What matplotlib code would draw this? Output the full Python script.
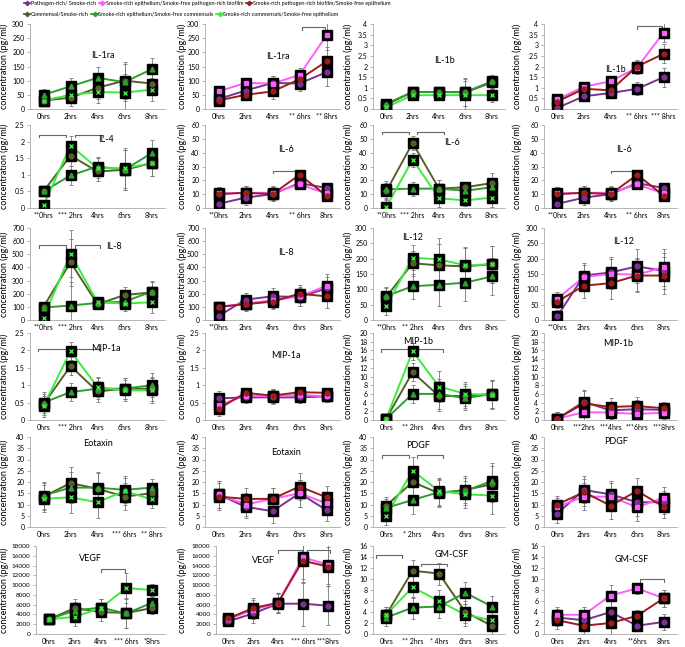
import numpy as np
import matplotlib.pyplot as plt
from matplotlib.lines import Line2D
from matplotlib.ticker import FuncFormatter, MultipleLocator

plt.rcParams['font.family'] = ['Lato', 'DejaVu Sans']

hours = ['0hrs', '2hrs', '4hrs', '6hrs', '8hrs']

# 커멘설 패널 순서: Commensal/Smoke-rich, SR epithelium/SF commensals, SR commensals/SF epithelium
# 병원균 패널 순서: Pathogen-rich/Smoke-rich, SR epithelium/SF pathogen-rich, SR pathogen-rich/SF epithelium
il1ra_c = [[30, 40, 75, 100, 90], [50, 80, 110, 95, 140], [30, 50, 60, 58, 68]]
il1ra_c_err = [20, 30, 40, 65, 40]
il1ra_p = [[35, 65, 92, 90, 130], [62, 92, 90, 120, 260], [30, 50, 62, 105, 168]]
il1ra_p_err = [15, 15, 25, 25, 50]
il1b_c = [[0.2, 0.8, 0.8, 0.78, 1.25], [0.25, 0.8, 0.8, 0.8, 1.3], [0.08, 0.65, 0.65, 0.65, 0.65]]
il1b_c_err = [0.1, 0.15, 0.2, 0.65, 0.3]
il1b_p = [[0.05, 0.6, 0.75, 0.95, 1.5], [0.45, 1.05, 1.3, 1.95, 3.6], [0.35, 0.95, 0.88, 2.0, 2.6]]
il1b_p_err = [0.15, 0.15, 0.2, 0.3, 0.45]
il4_c = [[0.5, 1.58, 1.1, 1.15, 1.35], [0.5, 0.98, 1.25, 1.15, 1.65], [0.08, 1.88, 1.2, 1.2, 1.35]]
il4_c_err = [0.1, 0.3, 0.3, 0.6, 0.4]
il6_p = [[3, 7.5, 10, 18, 14.5], [10.5, 11, 11, 17, 10.5], [10, 11, 10, 24, 9]]
il6_p_err = [5, 5, 5, 3, 3]
il6_c = [[12, 47, 14, 15, 18], [13.5, 14, 14, 12.5, 15], [0.5, 35, 7, 5.5, 7.5]]
il6_c_err = [6, 5, 6, 4, 7]
il8_c = [[100, 440, 120, 190, 210], [95, 110, 130, 140, 215], [15, 505, 135, 125, 135]]
il8_c_err = [40, 180, 40, 60, 80]
il8_p = [[30, 155, 180, 175, 240], [100, 125, 150, 180, 260], [100, 120, 140, 200, 180]]
il8_p_err = [30, 50, 60, 70, 90]
il12_c = [[75, 185, 178, 175, 182], [78, 110, 115, 122, 142], [45, 203, 198, 178, 182]]
il12_c_err = [30, 40, 70, 60, 60]
il12_p = [[12, 145, 155, 175, 160], [70, 140, 150, 148, 172], [60, 112, 120, 145, 145]]
il12_p_err = [20, 40, 50, 55, 60]
mip1a_c = [[0.45, 1.55, 0.82, 0.9, 0.9], [0.5, 0.8, 0.9, 0.9, 1.0], [0.4, 1.98, 0.95, 0.85, 0.85]]
mip1a_c_err = [0.3, 0.25, 0.3, 0.3, 0.35]
mip1a_p = [[0.62, 0.65, 0.65, 0.65, 0.68], [0.42, 0.7, 0.68, 0.72, 0.68], [0.32, 0.78, 0.7, 0.8, 0.78]]
mip1a_p_err = [0.2, 0.15, 0.2, 0.15, 0.15]
mip1b_c = [[0.3, 11, 5.5, 5.5, 6], [0.3, 6, 6, 5, 6], [0.3, 15.8, 7.7, 6, 5.8]]
mip1b_c_err = [0.3, 2, 3.5, 2.8, 3.2]
mip1b_p = [[0.3, 4.2, 2.2, 2.5, 2.3], [0.3, 1.8, 1.7, 1.4, 1.7], [0.3, 3.8, 3, 3.2, 2.7]]
mip1b_p_err = [1.5, 2.8, 2, 2, 1.5]
eot_c = [[13.5, 19.5, 17, 13.5, 15], [14, 17.5, 17.5, 16.5, 17.5], [12.5, 13.2, 11, 16, 12.3]]
eot_c_err = [6, 7, 7, 6, 4]
eot_p = [[14.5, 9, 7, 15, 7.5], [14.5, 10, 12.5, 15, 10.5], [13.5, 12.5, 12.5, 18, 13.2]]
eot_p_err = [6, 5, 5, 6, 5]
pdgf_c = [[9.5, 20, 15, 16.5, 19], [8.5, 12, 15.5, 16, 20.5], [5, 25, 16, 14.5, 14]]
pdgf_c_err = [4, 6, 6, 6, 8]
pdgf_p = [[6, 16.5, 14.5, 11, 11], [9, 13.5, 13.5, 8.8, 13], [10, 15.5, 9.5, 16, 9]]
pdgf_p_err = [4, 6, 6, 6, 5]
vegf_c = [[3000, 5300, 4500, 4300, 5300], [3000, 4800, 5400, 4200, 6400], [3000, 3500, 5300, 9400, 9000]]
vegf_c_err = [1000, 1800, 1800, 3000, 1200]
vegf_p = [[2600, 4200, 6200, 6200, 5800], [3000, 5000, 6300, 15700, 14200], [3200, 5300, 6400, 15000, 13800]]
vegf_p_err = [1000, 2000, 2000, 4500, 4000]
gmcsf_c = [[3.5, 11.5, 11, 4, 1.5], [3, 4.8, 5, 7.5, 5], [3.5, 8.5, 6, 3.5, 2.5]]
gmcsf_c_err = [1.5, 2, 2, 2, 2]
gmcsf_p = [[3, 2.5, 4, 1.5, 2.2], [3.5, 3.5, 7, 8.3, 6.5], [2.5, 1.5, 2, 3.3, 6.5]]
gmcsf_p_err = [1.5, 1.5, 2, 1, 1.5]

# 패널별 x축 라벨 (유의성 표시 포함)
x_plain = hours
x_il1ra_p = ['0hrs', '2hrs', '4hrs', '** 6hrs', '** 8hrs']
x_il1b_p = ['0hrs', '2hrs', '4hrs', '** 6hrs', '*** 8hrs']
x_il4 = ['**0hrs', '*** 2hrs', '4hrs', '6hrs', '8hrs']
x_il6_p = ['**0hrs', '2hrs', '4hrs', '** 6hrs', '8hrs']
x_il8_p = ['**0hrs', '2hrs', '4hrs', '6hrs', '8hrs']
x_il12_c = ['**0hrs', '** 2hrs', '4hrs', '6hrs', '8hrs']
x_mip1a_c = ['0hrs', '*** 2hrs', '4hrs', '6hrs', '8hrs']
x_mip1b_c = ['0hrs', '** 2hrs', '4hrs', '6hrs', '8hrs']
x_mip1b_p = ['0hrs', '***2hrs', '***4hrs', '***6hrs', '***8hrs']
x_eot_c = ['0hrs', '2hrs', '4hrs', '*** 6hrs', '** 8hrs']
x_pdgf_c = ['0hrs', '* 2hrs', '4hrs', '6hrs', '8hrs']
x_vegf_c = ['0hrs', '2hrs', '4hrs', '*** 6hrs', '*8hrs']
x_vegf_p = ['0hrs', '2hrs', '4hrs', '*** 6hrs', '***8hrs']
x_gmcsf_c = ['0hrs', '** 2hrs', '* 4hrs', '6hrs', '8hrs']
x_gmcsf_p = ['0hrs', '2hrs', '4hrs', '**6hrs', '8hrs']

c_names = ['Commensal/Smoke-rich', 'Smoke-rich epithelium/Smoke-free commensals',
           'Smoke-rich commensals/Smoke-free epithelium']
p_names = ['Pathogen-rich/ Smoke-rich', 'Smoke-rich epithelium/Smoke-free pathogen-rich biofilm',
           'Smoke-rich pathogen-rich biofilm/Smoke-free epithelium']
c_colors = ['#55602A', '#2F9E2F', '#3DEB3D']
p_colors = ['#7B3294', '#FF5CFF', '#9E1C1C']
c_markers = ['o', '^', 'x']
p_markers = ['o', 's', 'o']

# (데이터, 오차, 그룹, 제목, ymax, 눈금간격, x라벨, 제목위치, 괄호들)
panels = [
    (il1ra_c, il1ra_c_err, 'c', 'IL-1ra', 300, 50, x_plain, (2.2, 190), []),
    (il1ra_p, il1ra_p_err, 'p', 'IL-1ra', 300, 50, x_il1ra_p, (2.2, 185), [(3.1, 3.95, 288)]),
    (il1b_c, il1b_c_err, 'c', 'IL-1b', 4, 0.5, x_plain, (2.2, 2.3), []),
    (il1b_p, il1b_p_err, 'p', 'IL-1b', 4, 0.5, x_il1b_p, (2.2, 1.85), [(3.0, 3.95, 3.9)]),
    (il4_c, il4_c_err, 'c', 'IL-4', 2.5, 0.5, x_il4, (2.3, 2.05), [(-0.15, 0.85, 2.2), (1.15, 2.2, 2.2)]),
    (il6_p, il6_p_err, 'p', 'IL-6', 60, 10, x_il6_p, (2.5, 42), [(2.0, 3.0, 27)]),
    (il6_c, il6_c_err, 'c', 'IL-6', 60, 10, x_il4, (2.5, 47), [(-0.15, 0.85, 55), (1.15, 2.2, 55)]),
    (il6_p, il6_p_err, 'p', 'IL-6', 60, 10, x_il6_p, (2.5, 42), [(2.0, 3.0, 27)]),
    (il8_c, il8_c_err, 'c', 'IL-8', 700, 100, x_il4, (2.6, 560), [(-0.15, 0.85, 570), (1.15, 2.1, 570)]),
    (il8_p, il8_p_err, 'p', 'IL-8', 700, 100, x_il8_p, (2.5, 510), []),
    (il12_c, il12_c_err, 'c', 'IL-12', 300, 50, x_il12_c, (1.0, 270), []),
    (il12_p, il12_p_err, 'p', 'IL-12', 300, 50, x_il8_p, (2.5, 255), []),
    (mip1a_c, mip1a_c_err, 'c', 'MIP-1a', 2.5, 0.5, x_mip1a_c, (2.3, 2.05), [(-0.2, 0.85, 2.05), (1.15, 2.1, 2.05)]),
    (mip1a_p, mip1a_p_err, 'p', 'MIP-1a', 2.5, 0.5, x_plain, (2.5, 1.85), []),
    (mip1b_c, mip1b_c_err, 'c', 'MIP-1b', 20, 2, x_mip1b_c, (1.2, 18), [(-0.2, 0.85, 16.3), (1.15, 2.15, 16.3)]),
    (mip1b_p, mip1b_p_err, 'p', 'MIP-1b', 20, 2, x_mip1b_p, (2.3, 17.5), []),
    (eot_c, eot_c_err, 'c', 'Eotaxin', 40, 5, x_eot_c, (2.0, 37), []),
    (eot_p, eot_p_err, 'p', 'Eotaxin', 40, 5, x_plain, (2.5, 33), []),
    (pdgf_c, pdgf_c_err, 'c', 'PDGF', 40, 5, x_pdgf_c, (1.2, 36), [(-0.15, 0.85, 32), (1.15, 2.15, 32)]),
    (pdgf_p, pdgf_p_err, 'p', 'PDGF', 40, 5, x_plain, (2.2, 38), []),
    (vegf_c, vegf_c_err, 'c', 'VEGF', 18000, 2000, x_vegf_c, (1.6, 15500), [(2.0, 2.95, 13300)]),
    (vegf_p, vegf_p_err, 'p', 'VEGF', 18000, 2000, x_vegf_p, (1.4, 15000), [(2.0, 2.95, 17200), (3.15, 4.1, 17200)]),
    (gmcsf_c, gmcsf_c_err, 'c', 'GM-CSF', 16, 2, x_gmcsf_c, (2.5, 14.5), [(-0.4, 0.6, 14.3), (1.3, 2.3, 12.8)]),
    (gmcsf_p, gmcsf_p_err, 'p', 'GM-CSF', 16, 2, x_gmcsf_p, (2.8, 13.5), [(3.1, 4.0, 10)]),
]

W, H = 685, 647
col_lr = [(30, 165), (205, 340), (373, 505), (544, 677)]
col_lr_last = [(36, 165), (216, 340), (373, 505), (544, 677)]
label_px = [9, 187, 353, 522]
row_tb = [(24, 109), (125, 208), (228, 320), (333, 420), (437, 527), (546, 634)]

fig = plt.figure(figsize=(W / 100, H / 100), dpi=100)
fmt = FuncFormatter(lambda v, p: '%g' % v)
x = np.arange(5)

for i, (vals, err, grp, title, ymax, step, xlab, tpos, brackets) in enumerate(panels):
    r, c = divmod(i, 4)
    l, rr = col_lr_last[c] if r == 5 else col_lr[c]
    t, b = row_tb[r]
    ax = fig.add_axes([l / W, 1 - b / H, (rr - l) / W, (b - t) / H])
    colors = c_colors if grp == 'c' else p_colors
    markers = c_markers if grp == 'c' else p_markers

    for k in range(3):
        y = np.array(vals[k])
        ax.errorbar(x, y, yerr=err, fmt='none', ecolor='#777777', elinewidth=0.6,
                    capsize=1.5, capthick=0.6, zorder=2)
    for k in range(3):
        y = np.array(vals[k])
        ax.plot(x, y, color=colors[k], lw=1.4, zorder=3)
        ax.plot(x, y, ls='none', marker='s', ms=6.5, color='black', zorder=4)
        ax.plot(x, y, ls='none', marker=markers[k], ms=3.5, color=colors[k],
                mew=1.0, zorder=5)

    for (x0, x1, yb) in brackets:
        tick = ymax * 0.03
        ax.plot([x0, x0, x1, x1], [yb - tick, yb, yb, yb - tick],
                color='#666666', lw=0.8, zorder=1)

    ax.text(tpos[0], tpos[1], title, fontsize=6.5, ha='center', va='center')

    ax.set_xlim(-0.5, 4.5)
    ax.set_ylim(0, ymax)
    ax.yaxis.set_major_locator(MultipleLocator(step))
    ax.yaxis.set_major_formatter(fmt)
    ax.set_xticks(x)
    ax.set_xticklabels(xlab)
    ax.tick_params(axis='x', length=0, labelsize=5, pad=3)
    ax.tick_params(axis='y', length=2, width=0.5, labelsize=5 if ymax < 1000 else 4.6,
                   color='#999999', pad=2)
    for s in ['top', 'right']:
        ax.spines[s].set_visible(False)
    for s in ['left', 'bottom']:
        ax.spines[s].set_color('#AAAAAA')
        ax.spines[s].set_linewidth(0.6)
    ax.set_ylabel('concentration (pg/ml)', fontsize=6.5)
    ax.yaxis.set_label_coords((label_px[c] - l) / (rr - l), 0.5)

# 범례 두 줄
p_handles = [Line2D([], [], color=p_colors[k], lw=1.3, marker='D', ms=2.2) for k in range(3)]
c_handles = [Line2D([], [], color=c_colors[k], lw=1.3, marker='D', ms=2.2) for k in range(3)]
leg_kw = dict(loc='upper left', ncol=3, frameon=False, fontsize=4, handlelength=1.1,
              handletextpad=0.15, columnspacing=0.5, borderpad=0.1)
fig.legend(p_handles, p_names, bbox_to_anchor=(0.03, 1.003), **leg_kw)
fig.legend(c_handles, c_names, bbox_to_anchor=(0.03, 0.987), **leg_kw)

fig.savefig('out.png', dpi=100)
